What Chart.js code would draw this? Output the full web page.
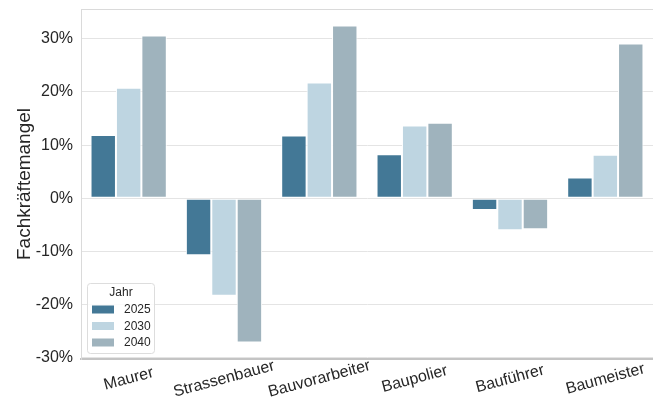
<!DOCTYPE html>
<html>
<head>
<meta charset="utf-8">
<script src="https://cdn.jsdelivr.net/npm/chart.js@4"></script>
<style>
  html, body { margin: 0; padding: 0; background: #fff; }
  canvas { display: block; }
</style>
</head>
<body>
<canvas id="c" width="653" height="405"></canvas>
<script>
const categories = ['Maurer', 'Strassenbauer', 'Bauvorarbeiter', 'Baupolier', 'Bauführer', 'Baumeister'];
const years = ['2025', '2030', '2040'];
const values2025 = [11.9, -10.7, 11.8, 8.3, -2.2, 3.9];
const values2030 = [20.8, -18.3, 21.8, 13.7, -6.0, 8.2];
const values2040 = [30.6, -27.1, 32.5, 14.2, -5.8, 29.1];
const yTicks = [-30, -20, -10, 0, 10, 20, 30];
const yTickLabels = ['-30%', '-20%', '-10%', '0%', '10%', '20%', '30%'];
const colors = ['#437896', '#bed5e1', '#9fb3bd'];
const yTitle = 'Fachkräftemangel';
const legendTitle = 'Jahr';

const FONT = '"Liberation Sans", Arial, sans-serif';

const bgPlugin = {
  id: 'bg',
  beforeDraw(chart) {
    const ctx = chart.ctx;
    ctx.save();
    ctx.fillStyle = '#ffffff';
    ctx.fillRect(0, 0, chart.width, chart.height);
    ctx.restore();
  }
};

const framePlugin = {
  id: 'frame',
  beforeDatasetsDraw(chart) {
    const a = chart.chartArea, ctx = chart.ctx;
    ctx.save();
    ctx.strokeStyle = '#dadada';
    ctx.lineWidth = 1;
    ctx.beginPath();
    ctx.moveTo(a.left, a.top + 0.5);
    ctx.lineTo(a.right, a.top + 0.5);
    ctx.stroke();
    ctx.restore();
  },
  afterDraw(chart) {
    const ctx = chart.ctx;
    const xs = chart.scales.x;
    // x labels, rotated and centered
    ctx.save();
    ctx.fillStyle = '#262626';
    ctx.font = '16px ' + FONT;
    ctx.textAlign = 'center';
    ctx.textBaseline = 'middle';
    chart.data.labels.forEach((lab, i) => {
      const x = xs.getPixelForValue(i);
      ctx.save();
      ctx.translate(x, 379);
      ctx.rotate(-15 * Math.PI / 180);
      ctx.fillText(lab, 0, 0);
      ctx.restore();
    });
    ctx.restore();

    // legend
    const lx = 87, ly = 283, lw = 67, lh = 70;
    ctx.save();
    ctx.fillStyle = 'rgba(255,255,255,0.85)';
    ctx.strokeStyle = '#dddddd';
    ctx.lineWidth = 1;
    ctx.beginPath();
    if (ctx.roundRect) ctx.roundRect(lx + 0.5, ly + 0.5, lw, lh, 3); else ctx.rect(lx + 0.5, ly + 0.5, lw, lh);
    ctx.fill();
    ctx.stroke();
    ctx.fillStyle = '#262626';
    ctx.font = '12px ' + FONT;
    ctx.textAlign = 'center';
    ctx.textBaseline = 'middle';
    ctx.fillText(legendTitle, lx + lw / 2 + 0.5, 293);
    ctx.textAlign = 'left';
    chart.data.datasets.forEach((ds, i) => {
      const cy = 309.5 + i * 16.5;
      ctx.fillStyle = ds.backgroundColor;
      ctx.fillRect(92, cy - 4, 22, 8);
      ctx.fillStyle = '#262626';
      ctx.fillText(ds.label, 124, cy + 0.5);
    });
    ctx.restore();
  }
};

new Chart(document.getElementById('c'), {
  type: 'bar',
  data: {
    labels: categories,
    datasets: [
      { label: years[0], data: values2025, backgroundColor: colors[0] },
      { label: years[1], data: values2030, backgroundColor: colors[1] },
      { label: years[2], data: values2040, backgroundColor: colors[2] }
    ].map(d => Object.assign(d, {
      borderColor: '#ffffff', borderWidth: 1, borderSkipped: false,
      categoryPercentage: 0.8, barPercentage: 1.0
    }))
  },
  options: {
    responsive: false,
    animation: false,
    devicePixelRatio: 1,
    layout: { padding: { top: 9, right: 0, left: 0, bottom: 0 } },
    plugins: { legend: { display: false }, tooltip: { enabled: false } },
    scales: {
      x: {
        grid: { display: false, drawTicks: false },
        border: { display: true, color: '#c4c4c4', width: 2 },
        ticks: { display: false },
        afterFit(s) { s.height = 46; s.paddingLeft = 0; s.paddingRight = 0; }
      },
      y: {
        min: -30.2,
        max: 35.6,
        afterBuildTicks(s) { s.ticks = yTicks.map(v => ({ value: v })); },
        grid: { color: '#e4e4e4', lineWidth: 1, drawTicks: false },
        border: { display: true, color: '#dadada', width: 1 },
        ticks: {
          padding: 8,
          color: '#262626',
          font: { family: FONT, size: 16 },
          callback(v) { const i = yTicks.indexOf(v); return i >= 0 ? yTickLabels[i] : ''; }
        },
        title: {
          display: true,
          text: yTitle,
          color: '#262626',
          font: { family: FONT, size: 19 },
          padding: { top: 13, bottom: 0 }
        },
        afterFit(s) { s.width = 81; s.paddingTop = 0; s.paddingBottom = 0; }
      }
    }
  },
  plugins: [bgPlugin, framePlugin]
});
</script>
</body>
</html>
